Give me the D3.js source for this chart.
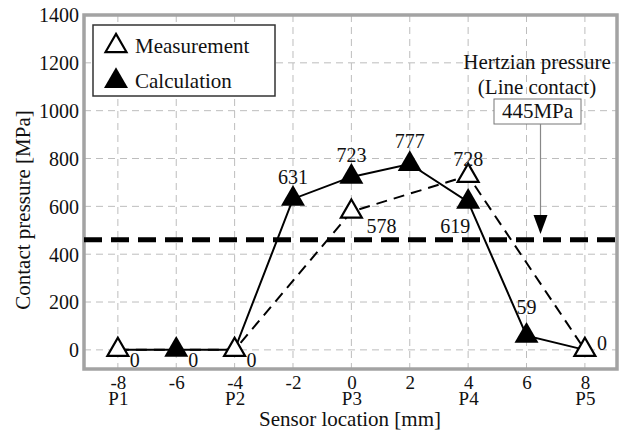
<!DOCTYPE html>
<html>
<head>
<meta charset="utf-8">
<script src="https://cdn.jsdelivr.net/npm/d3@7"></script>
<style>
  body { margin: 0; background: #fff; }
  svg text { font-family: "Liberation Serif", "Times New Roman", serif; fill: #111; }
</style>
</head>
<body>
<svg id="chart" width="626" height="432"></svg>
<script>
// sensor positions (mm) and names
const xTicks = [-8, -6, -4, -2, 0, 2, 4, 6, 8];
const sensorNames = { "-8": "P1", "-4": "P2", "0": "P3", "4": "P4", "8": "P5" };
const yTicks = [0, 200, 400, 600, 800, 1000, 1200, 1400];

// measured contact pressure
const measX = [-8, -4, 0, 4, 8];
const measY = [0, 0, 578, 728, 0];
// calculated contact pressure (line runs over the whole range, markers only where computed)
const calcLineX = [-8, -6, -4, -2, 0, 2, 4, 6, 8];
const calcLineY = [0, 0, 0, 631, 723, 777, 619, 59, 0];
const calcX = [-6, -2, 0, 2, 4, 6];
const calcY = [0, 631, 723, 777, 619, 59];

const hertzLabel = "445MPa";
const hertzLine = 460;

const FONT = "'Liberation Serif', 'Times New Roman', serif";
const svg = d3.select("#chart");
const pLeft = 84, pRight = 617, pTop = 15, pBottom = 369;

const x = d3.scaleLinear().domain([-9.16, 9.1]).range([pLeft, pRight]);
const y = d3.scaleLinear().domain([-80, 1400]).range([pBottom, pTop]);

// grid
const grid = svg.append("g");
grid.selectAll("line.v")
  .data(xTicks)
  .enter().append("line")
  .attr("x1", (d) => x(d)).attr("x2", (d) => x(d))
  .attr("y1", pTop).attr("y2", pBottom)
  .attr("stroke", "#bdbdbd").attr("stroke-width", 1)
  .attr("stroke-dasharray", "7,5");
grid.selectAll("line.h")
  .data(yTicks)
  .enter().append("line")
  .attr("x1", pLeft).attr("x2", pRight)
  .attr("y1", (d) => y(d)).attr("y2", (d) => y(d))
  .attr("stroke", "#bdbdbd").attr("stroke-width", 1)
  .attr("stroke-dasharray", "7,5");

// axes (labels only, the frame is drawn separately)
const yAxis = svg.append("g")
  .attr("transform", `translate(${pLeft - 1},0)`)
  .call(d3.axisLeft(y).tickValues(yTicks).tickFormat((d) => String(d)).tickSize(0).tickPadding(4))
  .attr("font-family", FONT).attr("font-size", 20);
yAxis.select(".domain").remove();
yAxis.selectAll("text").attr("fill", "#111").attr("dy", "0.34em");

const xAxis = svg.append("g")
  .attr("transform", `translate(0,${pBottom})`)
  .call(d3.axisBottom(x).tickValues(xTicks).tickFormat((d) => String(d)).tickSize(0))
  .attr("font-family", FONT).attr("font-size", 19);
xAxis.select(".domain").remove();
xAxis.selectAll("text").attr("fill", "#111").attr("y", 20).attr("dy", null);
xAxis.selectAll(".tick").append("text")
  .attr("y", 36)
  .attr("fill", "#111")
  .text((d) => sensorNames[d] || "");

// frame
svg.append("rect")
  .attr("x", pLeft).attr("y", pTop)
  .attr("width", pRight - pLeft).attr("height", pBottom - pTop)
  .attr("fill", "none").attr("stroke", "#a3a3a3").attr("stroke-width", 3.5);

// axis titles
svg.append("text")
  .attr("x", 350).attr("y", 426)
  .attr("text-anchor", "middle")
  .style("font-size", "21px")
  .text("Sensor location [mm]");
svg.append("text")
  .attr("transform", "translate(30,210) rotate(-90)")
  .attr("text-anchor", "middle")
  .style("font-size", "21px")
  .text("Contact pressure [MPa]");

// hertzian pressure line
svg.append("line")
  .attr("x1", pLeft).attr("x2", pRight)
  .attr("y1", y(hertzLine)).attr("y2", y(hertzLine))
  .attr("stroke", "#000").attr("stroke-width", 5)
  .attr("stroke-dasharray", "18,9");

// lines
const line = d3.line().x((d) => x(d[0])).y((d) => y(d[1]));
svg.append("path")
  .datum(measX.map((v, i) => [v, measY[i]]))
  .attr("d", line)
  .attr("fill", "none").attr("stroke", "#000").attr("stroke-width", 2)
  .attr("stroke-dasharray", "11,7");
svg.append("path")
  .datum(calcLineX.map((v, i) => [v, calcLineY[i]]))
  .attr("d", line)
  .attr("fill", "none").attr("stroke", "#000").attr("stroke-width", 2);

// markers
const tri = d3.symbol().type(d3.symbolTriangle);
svg.selectAll("path.meas")
  .data(measX.map((v, i) => [v, measY[i]]))
  .enter().append("path")
  .attr("d", tri.size(190)())
  .attr("transform", (d) => `translate(${x(d[0])},${y(d[1])})`)
  .attr("fill", "#fff").attr("stroke", "#000").attr("stroke-width", 2.2);
svg.selectAll("path.calc")
  .data(calcX.map((v, i) => [v, calcY[i]]))
  .enter().append("path")
  .attr("d", tri.size(250)())
  .attr("transform", (d) => `translate(${x(d[0])},${y(d[1])})`)
  .attr("fill", "#000");

// value labels: [x, value, dx, dy, anchor]
const valueLabels = [
  [-8, 0, 12, 17, "start"],
  [-6, 0, 12, 17, "start"],
  [-4, 0, 12, 17, "start"],
  [-2, 631, 0, -15, "middle"],
  [0, 723, 0, -15, "middle"],
  [2, 777, 0, -16, "middle"],
  [4, 728, 0, -10, "middle"],
  [0, 578, 15, 21, "start"],
  [4, 619, 2, 31, "end"],
  [6, 59, 0, -22, "middle"],
  [8, 0, 12, 0, "start"]
];
const valueText = [0, 0, 0, 631, 723, 777, 728, 578, 619, 59, 0];
svg.selectAll("text.val")
  .data(valueLabels)
  .enter().append("text")
  .attr("x", (d) => x(d[0]) + d[2])
  .attr("y", (d) => y(d[1]) + d[3])
  .attr("text-anchor", (d) => d[4])
  .style("font-size", "20px")
  .text((d, i) => valueText[i]);

// legend
const lg = svg.append("g");
lg.append("rect")
  .attr("x", 93).attr("y", 25).attr("width", 182).attr("height", 71)
  .attr("fill", "#fff").attr("stroke", "#333").attr("stroke-width", 1.5);
lg.append("path")
  .attr("d", tri.size(190)())
  .attr("transform", "translate(116,46)")
  .attr("fill", "#fff").attr("stroke", "#000").attr("stroke-width", 2.2);
lg.append("path")
  .attr("d", tri.size(250)())
  .attr("transform", "translate(116,81)")
  .attr("fill", "#000");
lg.append("text").attr("x", 135).attr("y", 53).style("font-size", "21px").text("Measurement");
lg.append("text").attr("x", 135).attr("y", 88).style("font-size", "21px").text("Calculation");

// hertzian annotation
svg.append("text").attr("x", 537).attr("y", 69)
  .attr("text-anchor", "middle").style("font-size", "21px").text("Hertzian pressure");
svg.append("text").attr("x", 537).attr("y", 94)
  .attr("text-anchor", "middle").style("font-size", "21px").text("(Line contact)");
svg.append("rect")
  .attr("x", 494).attr("y", 99).attr("width", 87).attr("height", 25)
  .attr("fill", "#fff").attr("stroke", "#777").attr("stroke-width", 1);
svg.append("text").attr("x", 537.5).attr("y", 118)
  .attr("text-anchor", "middle").style("font-size", "21px").text(hertzLabel);
svg.append("line")
  .attr("x1", 540.5).attr("x2", 540.5).attr("y1", 124).attr("y2", 220)
  .attr("stroke", "#888").attr("stroke-width", 1.2);
svg.append("path")
  .attr("d", d3.line()([[533.5, 215], [547.5, 215], [540.5, 234]]) + "Z")
  .attr("fill", "#000");
</script>
</body>
</html>
